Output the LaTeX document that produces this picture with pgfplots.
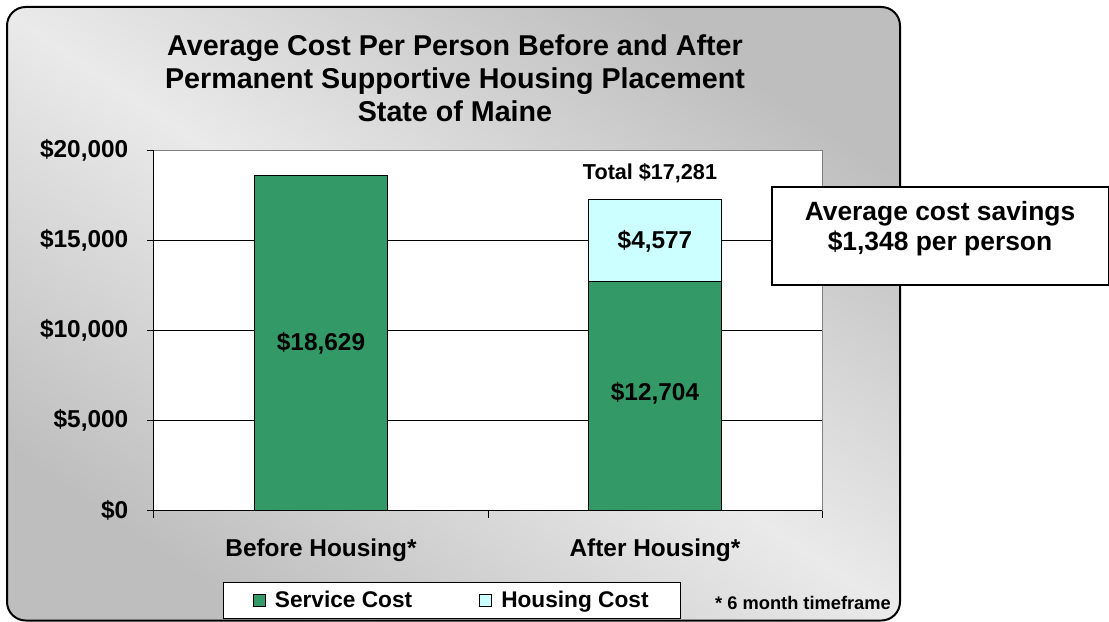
\documentclass[border=0pt]{standalone}
\usepackage{fontspec}
\setmainfont{Liberation Sans}
\usepackage{pgfplots}
\pgfplotsset{compat=1.18}
\definecolor{svc}{HTML}{339966}
\definecolor{hsg}{HTML}{CCFFFF}
\definecolor{bglight}{HTML}{EAEAEA}
\definecolor{bgdark}{HTML}{BEBEBE}
\definecolor{framegray}{HTML}{808080}
\newcommand{\fs}[2]{\fontsize{#1}{#2}\selectfont\bfseries}
\begin{document}
\begin{tikzpicture}[x=0.75pt,y=0.75pt]
\useasboundingbox (0,0) rectangle (1109,621);
\shade[rounded corners=14pt, top color=bgdark, bottom color=bgdark, middle color=bglight, shading angle=-34] (7,0.5) rectangle (900,614);
\draw[line width=1.5pt, rounded corners=14pt] (7,0.5) rectangle (900,614);
\begin{axis}[
  at={(115.5pt,82.875pt)}, anchor=south west,
  scale only axis, width=501pt, height=270pt,
  ybar stacked, bar width=99.75pt,
  xmin=0.5, xmax=2.5, ymin=0, ymax=20000,
  scaled y ticks=false,
  xtick={1,2}, xticklabels={Before Housing*, After Housing*},
  minor xtick={0.5,1.5,2.5},
  ytick={0,5000,10000,15000,20000},
  yticklabels={{\$0},{\$5,000},{\$10,000},{\$15,000},{\$20,000}},
  tick align=outside, tick pos=left,
  major tick length=5.25pt, minor tick length=5.25pt,
  major x tick style={draw=none},
  minor x tick style={black, line width=0.75pt},
  ytick style={black, line width=0.75pt},
  ymajorgrids, major grid style={black, line width=0.75pt},
  axis line style={black, line width=0.75pt},
  axis background/.style={fill=white},
  ticklabel style={font=\fs{18.3}{22}},
  yticklabel style={xshift=-10.5pt},
  xticklabel style={yshift=-12.75pt},
  legend columns=2,
  legend style={at={(0.446,-0.25)}, anchor=center, draw=black, fill=white, line width=0.75pt,
    font=\fs{17}{20}, inner xsep=22pt, inner ysep=4.4pt,
    /tikz/every odd column/.append style={column sep=5pt},
    /tikz/every even column/.append style={column sep=48pt}},
  legend image code/.code={\draw[#1,draw=black,line width=0.75pt] (0pt,-4.5pt) rectangle (9pt,4.5pt);},
  after end axis/.code={
    \draw[framegray, line width=0.75pt] (rel axis cs:0,1) -- (rel axis cs:1,1) -- (rel axis cs:1,0);
  },
]
\addplot+[fill=svc, draw=black, line width=0.75pt] coordinates {(1,18629) (2,12704)};
\addplot+[fill=hsg, draw=black, line width=0.75pt] coordinates {(1,0) (2,4577)};
\legend{Service Cost, Housing Cost}
\coordinate (l1) at (axis cs:1,9314);
\coordinate (l2) at (axis cs:2,6500);
\coordinate (l3) at (axis cs:2,14950);
\coordinate (l4) at (axis cs:1.985,18750);
\end{axis}
\node[font=\fs{18.3}{22}] at (l1) {\$18,629};
\node[font=\fs{18.3}{22}] at (l2) {\$12,704};
\node[font=\fs{18.3}{22}] at (l3) {\$4,577};
\node[font=\fs{16.2}{19}] at (l4) {Total \$17,281};
\node[align=center, font=\fs{21.5}{24.75}] at (455,543) {Average Cost Per Person Before and After\\Permanent Supportive Housing Placement\\State of Maine};
\draw[fill=white, line width=0.9pt] (772,336) rectangle (1108.5,434);
\node[align=center, font=\fs{19.8}{22.5}] at (940,392) {Average cost savings\\\$1,348 per person};
\node[font=\fs{13.7}{16}] at (803,18) {* 6 month timeframe};
\end{tikzpicture}
\end{document}
